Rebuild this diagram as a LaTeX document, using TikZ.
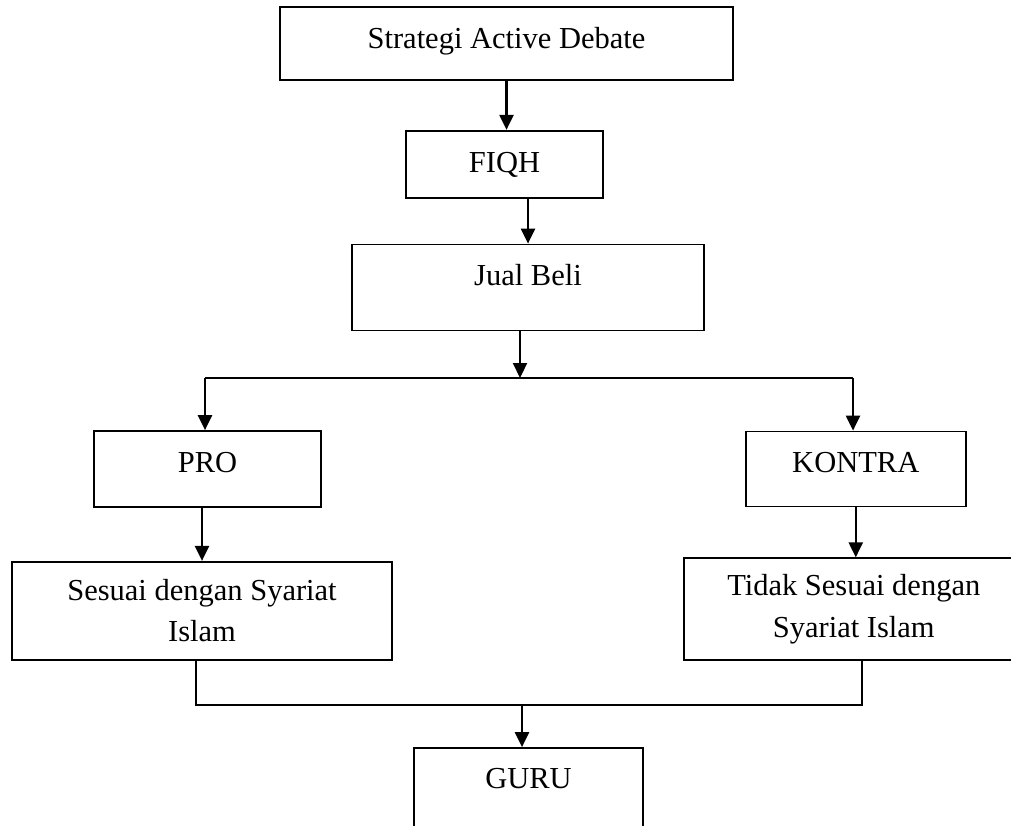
\documentclass[tikz,border=0pt]{standalone}
\usepackage{fontspec}
\setmainfont{Liberation Serif}
\usetikzlibrary{arrows.meta,positioning,calc}

\begin{document}
\begin{tikzpicture}[
  x=0.4pt, y=-0.4pt,
  box/.style={draw, line width=0.7pt, align=center, inner sep=0pt,
    font=\fontsize{12.2pt}{16.6pt}\selectfont},
  lift/.style={text height=9pt, text depth=#1},
  arrow/.style={-{Triangle[length=6pt,width=5.6pt]}, line width=0.9pt},
  link/.style={line width=0.7pt}
]
\useasboundingbox (0,0) rectangle (1011,825);

\node[box, minimum width=181.2pt, minimum height=29.2pt, lift=5.2pt] (strategi) at (506.5,43.5) {Strategi Active Debate};
\node[box, below=19.6pt of strategi, xshift=-0.8pt, minimum width=78.8pt, minimum height=26.8pt, lift=2.8pt] (fiqh) {FIQH};
\node[box, below=18pt of fiqh, xshift=9.4pt, minimum width=140.8pt, minimum height=34.4pt, lift=10.4pt] (jual) {Jual Beli};

\node[box, minimum width=90.8pt, minimum height=30.4pt, lift=6.4pt] (pro) at (207.5,469) {PRO};
\node[box, right=169.2pt of pro, minimum width=88pt, minimum height=30pt, lift=6pt] (kontra) {KONTRA};

\node[box, below=21.2pt of pro, xshift=-2.2pt, minimum width=152pt, minimum height=39.2pt] (sesuai) {Sesuai dengan Syariat\\Islam};
\node[box, below=20pt of kontra, xshift=-0.8pt, minimum width=136pt, minimum height=40.8pt] (tidak) {Tidak Sesuai dengan\\Syariat Islam};

\node[box, minimum width=91.6pt, minimum height=34.4pt, lift=11.2pt] (guru) at (528.5,791) {GURU};

\coordinate (split) at (520,378);
\coordinate (lsplit) at (205,378);
\coordinate (rsplit) at (853,378);
\coordinate (ljoin) at (196,705);
\coordinate (rjoin) at (862,705);
\coordinate (join) at (522,705);

\draw[arrow] (strategi.south) -- (strategi.south |- fiqh.north);
\draw[arrow] (jual.north |- fiqh.south) -- (jual.north);
\draw[arrow] (jual.south -| split) -- (split);
\draw[link] (lsplit) -- (rsplit);
\draw[arrow] (lsplit) -- (lsplit |- pro.north);
\draw[arrow] (rsplit) -- (rsplit |- kontra.north);
\draw[arrow] (sesuai.north |- pro.south) -- (sesuai.north);
\draw[arrow] (kontra.south) -- (kontra.south |- tidak.north);
\draw[link] (sesuai.south -| ljoin) -- (ljoin) -- (rjoin) -- (tidak.south -| rjoin);
\draw[arrow] (join) -- (guru.north -| join);
\end{tikzpicture}
\end{document}
